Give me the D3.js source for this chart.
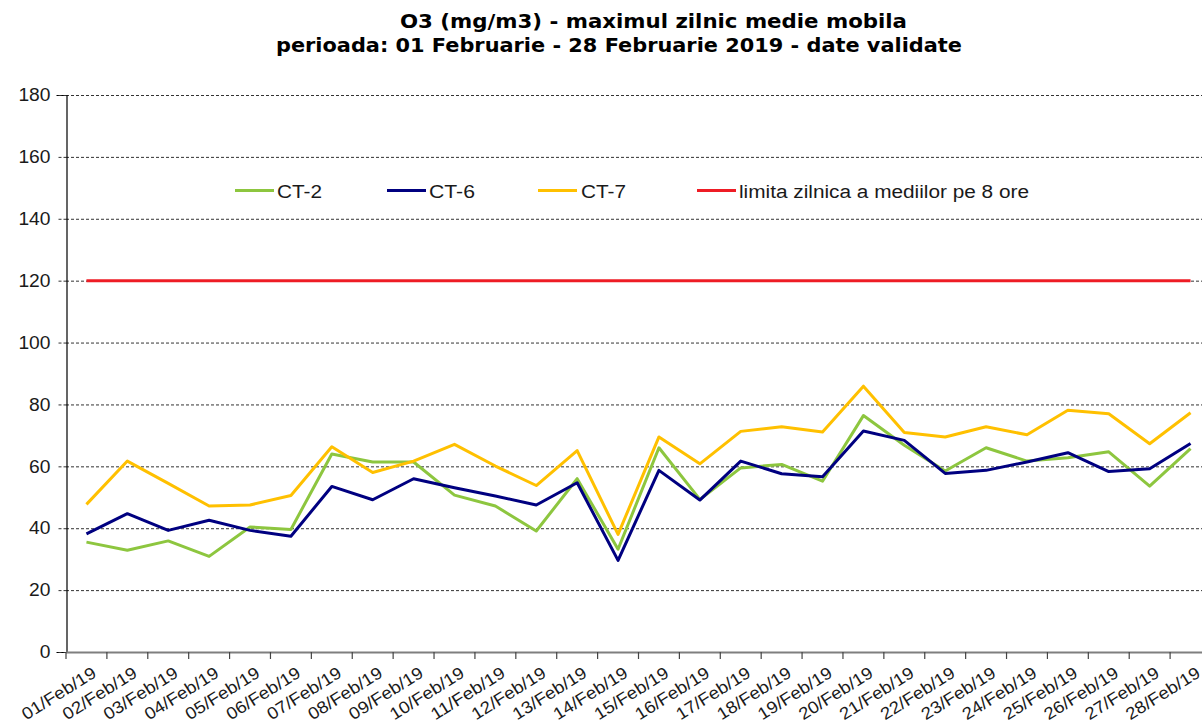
<!DOCTYPE html>
<html>
<head>
<meta charset="utf-8">
<script src="https://cdn.jsdelivr.net/npm/d3@7"></script>
<style>
  html, body { margin: 0; padding: 0; background: #fff; }
  svg { display: block; }
</style>
</head>
<body>
<svg id="chart" width="1202" height="723"></svg>
<script>
// ---- data ----
const dates = ["01/Feb/19","02/Feb/19","03/Feb/19","04/Feb/19","05/Feb/19","06/Feb/19","07/Feb/19",
  "08/Feb/19","09/Feb/19","10/Feb/19","11/Feb/19","12/Feb/19","13/Feb/19","14/Feb/19",
  "15/Feb/19","16/Feb/19","17/Feb/19","18/Feb/19","19/Feb/19","20/Feb/19","21/Feb/19",
  "22/Feb/19","23/Feb/19","24/Feb/19","25/Feb/19","26/Feb/19","27/Feb/19","28/Feb/19"];
const ct2 = [35.5,32.9,35.9,30.9,40.4,39.6,64.0,61.4,61.4,50.7,47.2,39.1,56.0,33.2,
  66.0,49.3,59.5,60.6,55.2,76.4,66.8,58.5,66.0,61.7,62.8,64.7,53.6,65.7];
const ct6 = [38.2,44.7,39.3,42.6,39.3,37.4,53.5,49.2,56.0,53.1,50.4,47.5,54.7,29.6,
  58.7,49.1,61.7,57.6,56.6,71.4,68.4,57.7,58.7,61.4,64.4,58.3,59.2,67.4];
const ct7 = [47.7,61.7,54.5,47.2,47.5,50.6,66.3,58.0,61.7,67.1,60.1,53.8,65.1,38.0,
  69.5,60.8,71.3,72.8,71.1,85.9,70.9,69.5,72.8,70.2,78.1,77.0,67.3,77.3];
const limit = dates.map(() => 120);
const yTicks = [0,20,40,60,80,100,120,140,160,180];
const seriesNames = ["CT-2","CT-6","CT-7","limita zilnica a mediilor pe 8 ore"];
const titleLines = ["O3 (mg/m3) - maximul zilnic medie mobila",
  "perioada: 01 Februarie - 28 Februarie 2019 - date validate"];

// ---- layout ----
const svg = d3.select("#chart");
const mLeft = 66, mRight = 1211, mTop = 95, mBottom = 652;
const colors = ["#8DC63F", "#000080", "#FFC000", "#EE1C25"];
const font = "Liberation Sans, Arial, sans-serif";

const x = d3.scaleBand().domain(dates).range([mLeft, mRight]).paddingInner(0).paddingOuter(0);
const y = d3.scaleLinear().domain([0, 180]).range([mBottom, mTop]);
const cx = d => x(d) + x.bandwidth() / 2;

// gridlines
svg.append("g").selectAll("line").data(yTicks.filter(t => t > 0)).join("line")
  .attr("x1", mLeft).attr("x2", 1202)
  .attr("y1", d => y(d) + 0.5).attr("y2", d => y(d) + 0.5)
  .attr("stroke", "#333").attr("stroke-width", 1).attr("stroke-dasharray", "3,2");

// y axis
const yAxis = svg.append("g").attr("transform", `translate(${mLeft + 0.5},0)`)
  .call(d3.axisLeft(y).tickValues(yTicks).tickSize(10).tickPadding(6).tickFormat(d3.format("d")));
yAxis.select(".domain").attr("stroke", "#000").attr("stroke-width", 1.2);
yAxis.selectAll(".tick line").attr("stroke", "#333").attr("stroke-dasharray", "3,2");
yAxis.selectAll("text").attr("font-family", font)
  .attr("font-size", 18).attr("fill", "#1a1a1a")
  .attr("textLength", d => String(d).length * 10.7).attr("lengthAdjust", "spacingAndGlyphs");

// x axis
const xg = svg.append("g");
xg.append("line").attr("x1", mLeft).attr("x2", 1202).attr("y1", mBottom + 0.5).attr("y2", mBottom + 0.5)
  .attr("stroke", "#7f7f7f").attr("stroke-width", 2);
const bounds = dates.map(d => x(d)).concat([x.range()[1]]);
xg.selectAll("line.tk").data(bounds).join("line").attr("class", "tk")
  .attr("x1", d => d).attr("x2", d => d).attr("y1", mBottom).attr("y2", mBottom + 7)
  .attr("stroke", "#444").attr("stroke-width", 1.2);
xg.selectAll("text").data(dates).join("text")
  .attr("transform", d => `translate(${cx(d) + 11},${mBottom + 24}) rotate(-32)`)
  .attr("text-anchor", "end")
  .attr("font-family", font).attr("font-size", 17)
  .attr("textLength", 84).attr("lengthAdjust", "spacingAndGlyphs")
  .attr("fill", "#1a1a1a")
  .text(d => d);

// lines
const line = d3.line().x((v, i) => cx(dates[i])).y(v => y(v));
const allSeries = [ct2, ct6, ct7, limit];
const order = [3, 0, 1, 2];
order.forEach(k => {
  svg.append("path").datum(allSeries[k]).attr("d", line)
    .attr("fill", "none").attr("stroke", colors[k]).attr("stroke-width", 3)
    .attr("stroke-linejoin", "round");
});

// legend
const legendItems = [
  {lx: 235, tx: 277, w: 45},
  {lx: 387, tx: 429, w: 46},
  {lx: 538, tx: 581, w: 45},
  {lx: 697, tx: 739, w: 290}
];
const lg = svg.append("g");
legendItems.forEach((it, i) => {
  lg.append("line").attr("x1", it.lx).attr("x2", it.lx + 39).attr("y1", 190.5).attr("y2", 190.5)
    .attr("stroke", colors[i]).attr("stroke-width", 3);
  lg.append("text").attr("x", it.tx).attr("y", 197.5)
    .attr("font-family", font).attr("font-size", 18)
    .attr("textLength", it.w).attr("lengthAdjust", "spacingAndGlyphs")
    .attr("fill", "#1a1a1a").text(seriesNames[i]);
});

// title
svg.append("text").attr("x", 400).attr("y", 28).attr("textLength", 507).attr("lengthAdjust", "spacingAndGlyphs")
  .attr("font-family", "DejaVu Sans, Verdana, sans-serif").attr("font-weight", "bold").attr("font-size", 20)
  .attr("fill", "#000").text(titleLines[0]);
svg.append("text").attr("x", 276).attr("y", 52).attr("textLength", 686).attr("lengthAdjust", "spacingAndGlyphs")
  .attr("font-family", "DejaVu Sans, Verdana, sans-serif").attr("font-weight", "bold").attr("font-size", 20)
  .attr("fill", "#000").text(titleLines[1]);
</script>
</body>
</html>
